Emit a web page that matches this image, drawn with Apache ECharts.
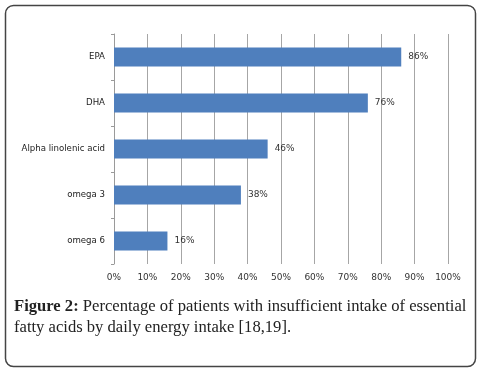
<!DOCTYPE html>
<html><head><meta charset="utf-8">
<script src="https://cdn.jsdelivr.net/npm/echarts@6/dist/echarts.min.js"></script>
<style>html,body{margin:0;padding:0;background:#fff}#c{width:480px;height:372px}</style>
</head><body><div id="c"></div>
<script>
const categories = ['omega 6', 'omega 3', 'Alpha linolenic acid', 'DHA', 'EPA'];
const values = [16, 38, 46, 76, 86];
const tickLabels = ['0%','10%','20%','30%','40%','50%','60%','70%','80%','90%','100%'];
const captionBold = 'Figure 2:';
const captionLine1 = ' Percentage of patients with insufficient intake of essential';
const captionLine2 = 'fatty acids by daily energy intake [18,19].';

const chart = echarts.init(document.getElementById('c'), null, {renderer:'canvas'});
chart.setOption({
  animation: false,
  backgroundColor: '#fff',
  grid: {left: 114, right: 32, top: 34, bottom: 108},
  xAxis: {
    type: 'value', min: 0, max: 100, interval: 10,
    axisLine: {show: false}, axisTick: {show: false},
    splitLine: {show: true, lineStyle: {color: '#a6a6a6', width: 1}},
    axisLabel: {
      formatter: v => tickLabels[Math.round(v / 10)],
      fontFamily: 'DejaVu Sans', fontSize: 9, color: '#333', margin: 9
    }
  },
  yAxis: {
    type: 'category', data: categories,
    axisLine: {show: true, lineStyle: {color: '#9a9a9a'}},
    axisTick: {show: true, length: 3, lineStyle: {color: '#9a9a9a'}},
    axisLabel: {fontFamily: 'DejaVu Sans', fontSize: 8.6, color: '#222', margin: 9}
  },
  series: [{
    type: 'bar', data: values, barCategoryGap: '59%',
    itemStyle: {color: '#4f7fbd'},
    label: {
      show: true, position: 'right', distance: 7,
      formatter: p => p.value + '%',
      fontFamily: 'DejaVu Sans', fontSize: 9, color: '#333'
    }
  }],
  graphic: [
    {type: 'rect', shape: {x: 5.5, y: 5.5, width: 470, height: 361, r: 8},
     style: {fill: 'none', stroke: '#444', lineWidth: 1.5}, silent: true},
    {type: 'text', left: 14, top: 298,
     style: {
       text: '{b|' + captionBold + '}{n|' + captionLine1 + '}\n{n|' + captionLine2 + '}',
       rich: {
         b: {fontFamily: 'Liberation Serif', fontSize: 16.6, fontWeight: 'bold', fill: '#222', lineHeight: 21},
         n: {fontFamily: 'Liberation Serif', fontSize: 16.6, fill: '#222', lineHeight: 21}
       }
     }}
  ]
});
</script></body></html>
